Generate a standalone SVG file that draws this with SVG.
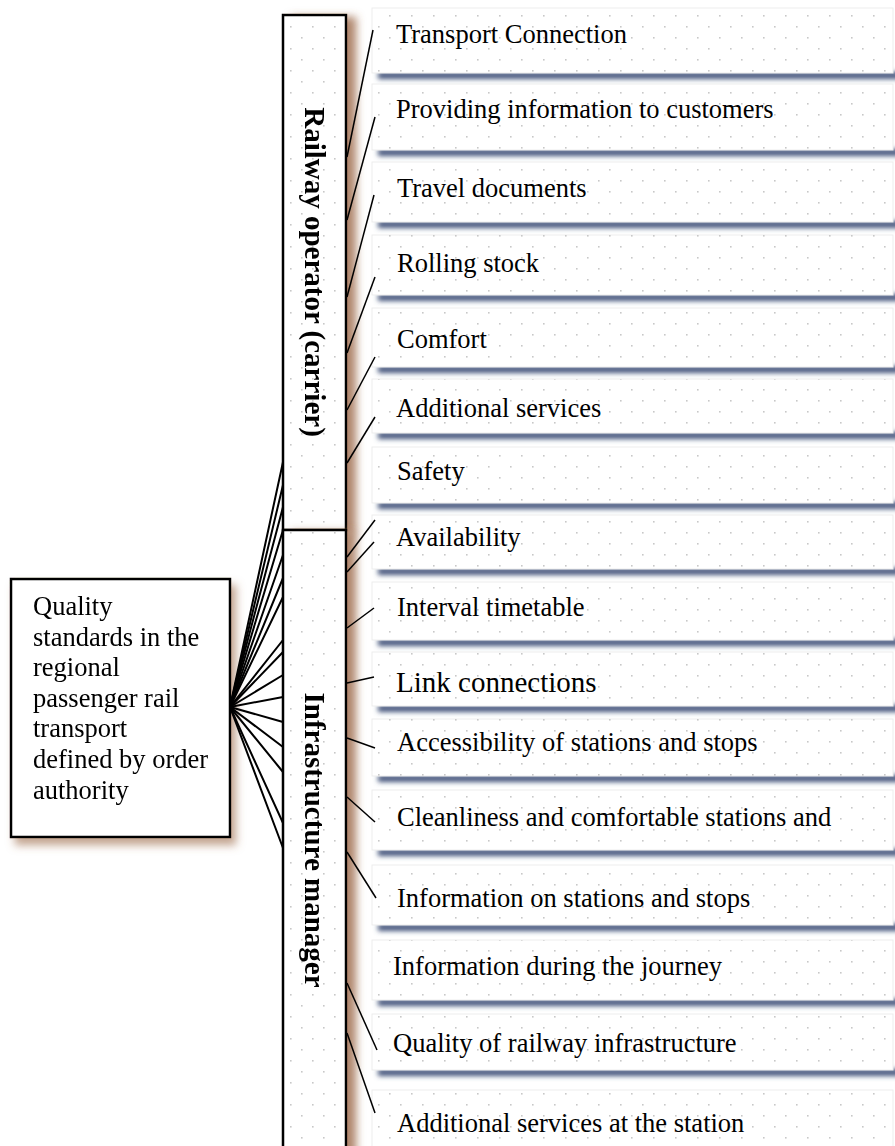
<svg xmlns="http://www.w3.org/2000/svg" width="895" height="1146" viewBox="0 0 895 1146">
<defs>
<style>
.t{font-family:"Liberation Serif","Times New Roman",serif;font-size:26.5px;fill:#000}
.v{font-family:"Liberation Serif","Times New Roman",serif;font-size:29px;font-weight:bold;fill:#000}
.fan line{stroke:#000;stroke-width:2;stroke-linecap:round}
.conn line{stroke:#000;stroke-width:1.5}
.box{fill:#fff;stroke:#ededed;stroke-width:1}
.dot{fill:url(#dots)}
.sh{fill:#44577d;filter:url(#blur3)}
.bar{fill:#fff;stroke:#000;stroke-width:2.5}
</style>
<pattern id="dots" width="22" height="22" patternUnits="userSpaceOnUse">
<rect x="4" y="4" width="1.6" height="1.6" fill="#c8c8c8"/>
<rect x="15" y="15" width="1.6" height="1.6" fill="#c8c8c8"/>
</pattern>
<filter id="blur3" x="-5%" y="-200%" width="110%" height="500%"><feGaussianBlur stdDeviation="2.6"/></filter>
<filter id="brown" x="-30%" y="-5%" width="170%" height="115%"><feDropShadow dx="9" dy="3" stdDeviation="4.5" flood-color="#95603c" flood-opacity="0.75"/></filter>
<filter id="brown2" x="-10%" y="-10%" width="125%" height="130%"><feDropShadow dx="5" dy="7" stdDeviation="4" flood-color="#9c6b4a" flood-opacity="0.6"/></filter>
</defs>
<rect width="895" height="1146" fill="#fff"/>

<g id="rows-shadows">
<rect class="sh" x="378" y="72" width="530" height="7"/>
<rect class="sh" x="378" y="149" width="530" height="7"/>
<rect class="sh" x="378" y="221" width="530" height="7"/>
<rect class="sh" x="378" y="294" width="530" height="7"/>
<rect class="sh" x="378" y="366" width="530" height="7"/>
<rect class="sh" x="378" y="432" width="530" height="7"/>
<rect class="sh" x="378" y="502" width="530" height="7"/>
<rect class="sh" x="378" y="568" width="530" height="7"/>
<rect class="sh" x="378" y="639" width="530" height="7"/>
<rect class="sh" x="378" y="705" width="530" height="7"/>
<rect class="sh" x="378" y="775" width="530" height="7"/>
<rect class="sh" x="378" y="849" width="530" height="7"/>
<rect class="sh" x="378" y="924" width="530" height="7"/>
<rect class="sh" x="378" y="999" width="530" height="7"/>
<rect class="sh" x="378" y="1069" width="530" height="7"/>
</g>

<g id="r1"><rect class="box" x="372" y="8" width="521" height="65"/><rect class="dot" x="372" y="8" width="521" height="65"/><text class="t" x="396" y="43">Transport Connection</text></g>
<g id="r2"><rect class="box" x="372" y="84" width="521" height="66"/><rect class="dot" x="372" y="84" width="521" height="66"/><text class="t" x="396" y="118">Providing information to customers</text></g>
<g id="r3"><rect class="box" x="372" y="162" width="521" height="60"/><rect class="dot" x="372" y="162" width="521" height="60"/><text class="t" x="397" y="197">Travel documents</text></g>
<g id="r4"><rect class="box" x="372" y="235" width="521" height="60"/><rect class="dot" x="372" y="235" width="521" height="60"/><text class="t" x="397" y="272">Rolling stock</text></g>
<g id="r5"><rect class="box" x="372" y="308" width="521" height="59"/><rect class="dot" x="372" y="308" width="521" height="59"/><text class="t" x="397" y="348">Comfort</text></g>
<g id="r6"><rect class="box" x="372" y="379" width="521" height="54"/><rect class="dot" x="372" y="379" width="521" height="54"/><text class="t" x="396" y="417">Additional services</text></g>
<g id="r7"><rect class="box" x="372" y="447" width="521" height="56"/><rect class="dot" x="372" y="447" width="521" height="56"/><text class="t" x="397" y="480">Safety</text></g>
<g id="r8"><rect class="box" x="372" y="515" width="521" height="54"/><rect class="dot" x="372" y="515" width="521" height="54"/><text class="t" x="396" y="546">Availability</text></g>
<g id="r9"><rect class="box" x="372" y="582" width="521" height="58"/><rect class="dot" x="372" y="582" width="521" height="58"/><text class="t" x="397" y="616">Interval timetable</text></g>
<g id="r10"><rect class="box" x="372" y="652" width="521" height="54"/><rect class="dot" x="372" y="652" width="521" height="54"/><text class="t" x="396" y="692" style="font-size:29px">Link connections</text></g>
<g id="r11"><rect class="box" x="372" y="719" width="521" height="57"/><rect class="dot" x="372" y="719" width="521" height="57"/><text class="t" x="397" y="751">Accessibility of stations and stops</text></g>
<g id="r12"><rect class="box" x="372" y="790" width="521" height="60"/><rect class="dot" x="372" y="790" width="521" height="60"/><text class="t" x="397" y="826">Cleanliness and comfortable stations and</text></g>
<g id="r13"><rect class="box" x="372" y="865" width="521" height="60"/><rect class="dot" x="372" y="865" width="521" height="60"/><text class="t" x="397" y="907">Information on stations and stops</text></g>
<g id="r14"><rect class="box" x="372" y="940" width="521" height="60"/><rect class="dot" x="372" y="940" width="521" height="60"/><text class="t" x="393" y="975">Information during the journey</text></g>
<g id="r15"><rect class="box" x="372" y="1014" width="521" height="56"/><rect class="dot" x="372" y="1014" width="521" height="56"/><text class="t" x="393" y="1052">Quality of railway infrastructure</text></g>
<g id="r16"><rect class="box" x="372" y="1090" width="521" height="70"/><rect class="dot" x="372" y="1090" width="521" height="70"/><text class="t" x="397" y="1132">Additional services at the station</text></g>

<g id="carrier" filter="url(#brown)">
<rect class="bar" x="283" y="15" width="63" height="515"/>
<rect class="dot" x="284" y="16" width="61" height="513"/>
<text class="v" transform="translate(305,272) rotate(90)" text-anchor="middle">Railway operator (carrier)</text>
</g>
<g id="infra" filter="url(#brown)">
<rect class="bar" x="283" y="530" width="63" height="630"/>
<rect class="dot" x="284" y="531" width="61" height="628"/>
<text class="v" transform="translate(305,840) rotate(90)" text-anchor="middle">Infrastructure manager</text>
</g>

<g id="source" filter="url(#brown2)">
<rect x="11" y="579" width="219" height="258" fill="#fff" stroke="#000" stroke-width="2.5"/>
<text class="t" x="33"><tspan x="33" y="615">Quality</tspan><tspan x="33" y="646">standards in the</tspan><tspan x="33" y="676">regional</tspan><tspan x="33" y="707">passenger rail</tspan><tspan x="33" y="737">transport</tspan><tspan x="33" y="768">defined by order</tspan><tspan x="33" y="799">authority</tspan></text>
</g>

<g id="connectors">
<g class="fan">
<line x1="230" y1="707" x2="283" y2="462"/>
<line x1="230" y1="707" x2="283" y2="485"/>
<line x1="230" y1="707" x2="283" y2="507"/>
<line x1="230" y1="707" x2="283" y2="530"/>
<line x1="230" y1="707" x2="283" y2="555"/>
<line x1="230" y1="707" x2="283" y2="578"/>
<line x1="230" y1="707" x2="283" y2="597"/>
<line x1="230" y1="707" x2="283" y2="640"/>
<line x1="230" y1="707" x2="283" y2="652"/>
<line x1="230" y1="707" x2="283" y2="675"/>
<line x1="230" y1="707" x2="283" y2="697"/>
<line x1="230" y1="707" x2="283" y2="722"/>
<line x1="230" y1="707" x2="283" y2="747"/>
<line x1="230" y1="707" x2="283" y2="772"/>
<line x1="230" y1="707" x2="283" y2="823"/>
<line x1="230" y1="707" x2="283" y2="848"/>
</g>
<g class="conn">
<line x1="347" y1="157" x2="373" y2="30"/>
<line x1="347" y1="220" x2="375" y2="117"/>
<line x1="347" y1="297" x2="374" y2="195"/>
<line x1="347" y1="353" x2="375" y2="277"/>
<line x1="347" y1="410" x2="375" y2="357"/>
<line x1="347" y1="463" x2="375" y2="417"/>
<line x1="347" y1="557" x2="375" y2="520"/>
<line x1="347" y1="572" x2="374" y2="542"/>
<line x1="347" y1="628" x2="374" y2="608"/>
<line x1="347" y1="683" x2="374" y2="677"/>
<line x1="347" y1="738" x2="375" y2="748"/>
<line x1="347" y1="797" x2="375" y2="822"/>
<line x1="347" y1="852" x2="376" y2="898"/>
<line x1="347" y1="983" x2="377" y2="1050"/>
<line x1="347" y1="1033" x2="375" y2="1113"/>
</g>
</g>
</svg>
